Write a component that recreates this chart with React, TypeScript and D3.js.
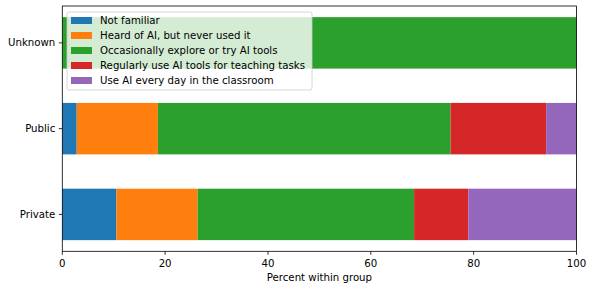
import React from "react"
import * as d3 from "d3"

// groups, top to bottom
const groups = ["Unknown", "Public", "Private"]
const levels = [
  "Not familiar",
  "Heard of AI, but never used it",
  "Occasionally explore or try AI tools",
  "Regularly use AI tools for teaching tasks",
  "Use AI every day in the classroom",
]
const colors = ["#1f77b4", "#ff7f0e", "#2ca02c", "#d62728", "#9467bd"]

// percent within group, one array per level (Unknown, Public, Private)
const notFamiliar = [0, 2.8, 10.53]
const heardNeverUsed = [0, 15.8, 15.79]
const occasionally = [100, 56.9, 42.1]
const regularly = [0, 18.6, 10.53]
const everyDay = [0, 5.9, 21.05]
const series = [notFamiliar, heardNeverUsed, occasionally, regularly, everyDay]

const xTicks = [0, 20, 40, 60, 80, 100]

const W = 594, H = 290
const left = 62.3, right = 576.5, top = 6, bottom = 251.3
const font = "DejaVu Sans, sans-serif"
const fs = 10.2

export default function App() {
  const x = d3.scaleLinear().domain([0, 100]).range([left, right])
  // matplotlib-ish: category positions 0..2, bar height .6, 5% margins
  const y = d3.scaleLinear().domain([2.43, -0.43]).range([top, bottom])
  const pos = (i: number) => groups.length - 1 - i
  const barH = y(0) - y(0.6)

  const stacked = groups.map((g, gi) => {
    let acc = 0
    return series.map((s, si) => {
      const x0 = acc
      acc += s[gi]
      return { g, gi, si, x0, x1: acc }
    })
  })

  const legX = 67, legY = 12, legW = 245, legRow = 15
  return (
    <svg width={W} height={H} style={{ position: "absolute", left: 0, top: 0 }} fontFamily={font}>
      <rect width={W} height={H} fill="white" />
      {stacked.flat().filter(d => d.x1 > d.x0).map(d => (
        <rect key={d.g + d.si} x={x(d.x0)} width={x(d.x1) - x(d.x0)}
          y={y(pos(d.gi)) - barH / 2} height={barH} fill={colors[d.si]} />
      ))}
      {/* spines */}
      <rect x={left} y={top} width={right - left} height={bottom - top} fill="none" stroke="black" strokeWidth={0.8} />
      {xTicks.map(t => (
        <g key={t}>
          <line x1={x(t)} x2={x(t)} y1={bottom} y2={bottom + 3.5} stroke="black" strokeWidth={0.8} />
          <text x={x(t)} y={bottom + 15.5} textAnchor="middle" fontSize={fs}>{t}</text>
        </g>
      ))}
      {groups.map((g, i) => (
        <g key={g}>
          <line x1={left - 3.5} x2={left} y1={y(pos(i))} y2={y(pos(i))} stroke="black" strokeWidth={0.8} />
          <text x={left - 7} y={y(pos(i))} dy="0.35em" textAnchor="end" fontSize={fs}>{g}</text>
        </g>
      ))}
      <text x={(left + right) / 2} y={280.5} textAnchor="middle" fontSize={fs}>Percent within group</text>
      {/* legend */}
      <rect x={legX} y={legY} width={legW} height={78} rx={2} fill="white" fillOpacity={0.8} stroke="#cccccc" strokeWidth={0.8} />
      {levels.map((l, i) => (
        <g key={l}>
          <rect x={71} y={legY + 5 + i * legRow} width={21} height={7} fill={colors[i]} />
          <text x={100} y={legY + 8.5 + i * legRow} dy="0.35em" fontSize={fs}>{l}</text>
        </g>
      ))}
    </svg>
  )
}
